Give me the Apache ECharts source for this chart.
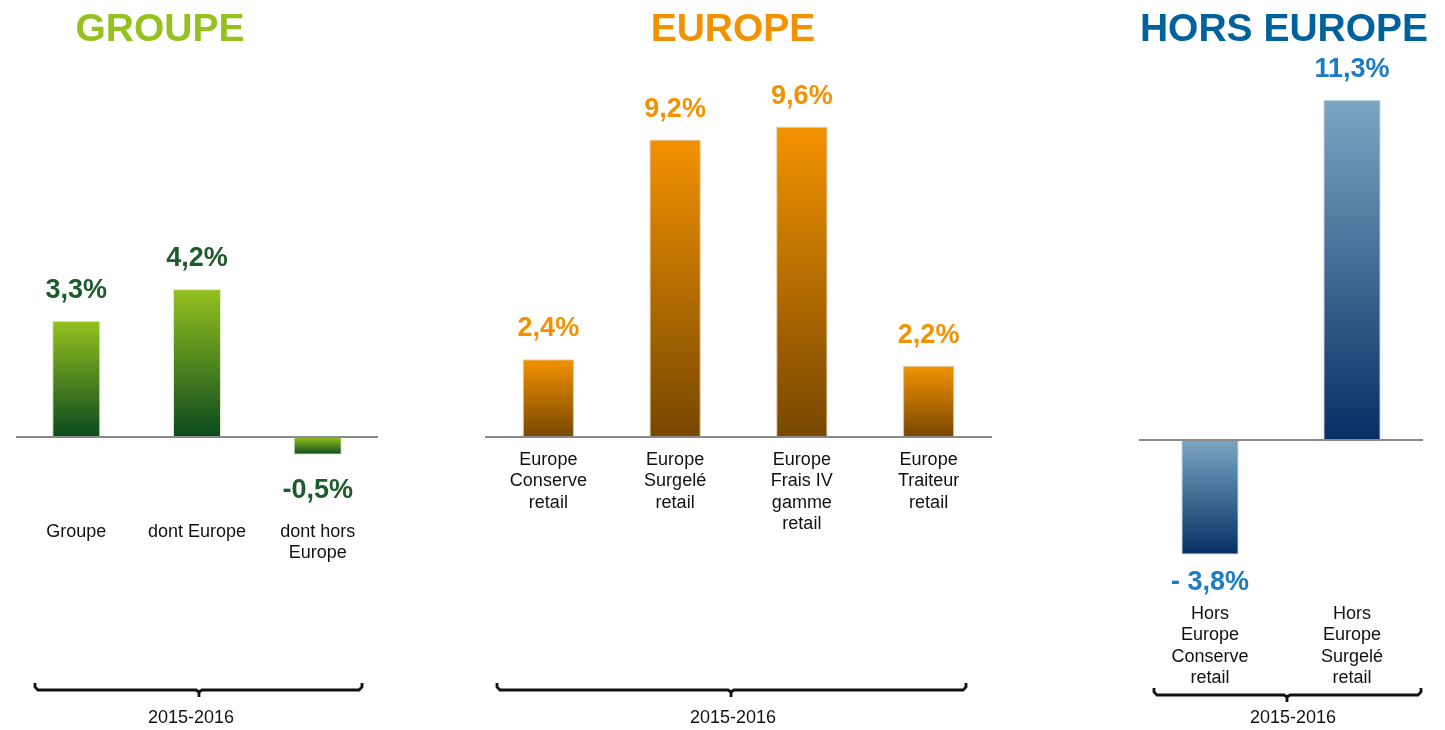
<!DOCTYPE html>
<html>
<head>
<meta charset="utf-8">
<script src="https://cdn.jsdelivr.net/npm/echarts@6/dist/echarts.min.js"></script>
<style>
html,body{margin:0;padding:0;background:#fff;}
#chart{width:1445px;height:730px;}
</style>
</head>
<body>
<div id="chart"></div>
<script>
// ---- Data ----
var titles = ['GROUPE', 'EUROPE', 'HORS EUROPE'];
var periodLabel = '2015-2016';

var groupeCategories = ['Groupe', 'dont Europe', 'dont hors\nEurope'];
var groupeValues = [3.3, 4.2, -0.5];

var europeCategories = ['Europe\nConserve\nretail', 'Europe\nSurgelé\nretail', 'Europe\nFrais IV\ngamme\nretail', 'Europe\nTraiteur\nretail'];
var europeValues = [2.4, 9.2, 9.6, 2.2];

var horsCategories = ['Hors\nEurope\nConserve\nretail', 'Hors\nEurope\nSurgelé\nretail'];
var horsValues = [-3.8, 11.3];

// ---- Layout / style (not data) ----
var FONT = 'Liberation Sans, Arial, sans-serif';
var panels = [
  { cats: groupeCategories, vals: groupeValues, left: 16, width: 362, top: 60, zeroY: 437, bottomY: 509, ppu: 35.2,
    barWidth: 48, top0: '#95c11f', bot0: '#0b4a1e', labelColor: '#1d5b2a', titleColor: '#95c11f',
    titleX: 160, negPrefix: '-', posDist: 17, negDist: 22, border: 'rgba(230,240,210,0.9)',
    bracket: [35, 362, 199, 690], periodX: 191 },
  { cats: europeCategories, vals: europeValues, left: 485, width: 507, top: 60, zeroY: 437, bottomY: 437, ppu: 32.3,
    barWidth: 51, top0: '#f39200', bot0: '#774700', labelColor: '#f39200', titleColor: '#f39200',
    titleX: 733, negPrefix: '-', posDist: 17, negDist: 22, border: 'rgba(225,195,150,0.9)',
    bracket: [497, 966, 731, 690], periodX: 733 },
  { cats: horsCategories, vals: horsValues, left: 1139, width: 284, top: 60, zeroY: 440, bottomY: 591, ppu: 30.1,
    barWidth: 57, top0: '#7ba7c4', bot0: '#052f63', labelColor: '#1b7bc3', titleColor: '#00629c',
    titleX: 1284, negPrefix: '- ', posDist: 17, negDist: 15, border: 'rgba(200,215,230,0.9)',
    bracket: [1154, 1421, 1287, 695], periodX: 1293 }
];

function fmt(v, negPrefix) {
  var s = Math.abs(v).toFixed(1).replace('.', ',') + '%';
  return v < 0 ? negPrefix + s : s;
}

var grids = [], xAxes = [], yAxes = [], series = [], titleArr = [], graphics = [];

panels.forEach(function (p, i) {
  grids.push({ left: p.left, width: p.width, top: p.top, height: p.bottomY - p.top });
  xAxes.push({
    type: 'category', gridIndex: i, data: p.cats, position: 'bottom',
    axisLine: { show: false, onZero: false }, axisTick: { show: false },
    axisLabel: { interval: 0, margin: 12, color: '#111', fontFamily: FONT, fontSize: 18, lineHeight: 21.5 }
  });
  yAxes.push({
    type: 'value', gridIndex: i, show: false,
    min: -(p.bottomY - p.zeroY) / p.ppu, max: (p.zeroY - p.top) / p.ppu,
    splitLine: { show: false }
  });
  var grad = new echarts.graphic.LinearGradient(0, 0, 0, 1, [
    { offset: 0, color: p.top0 }, { offset: 1, color: p.bot0 }
  ]);
  series.push({
    type: 'bar', xAxisIndex: i, yAxisIndex: i, barWidth: p.barWidth,
    itemStyle: { color: grad, borderColor: p.border, borderWidth: 1 },
    data: p.vals.map(function (v) {
      return {
        value: v,
        label: {
          show: true, position: v < 0 ? 'bottom' : 'top', distance: v < 0 ? p.negDist : p.posDist,
          formatter: fmt(v, p.negPrefix), color: p.labelColor,
          fontFamily: FONT, fontWeight: 'bold', fontSize: 27
        }
      };
    }),
    markLine: {
      silent: true, symbol: 'none', label: { show: false },
      lineStyle: { color: '#8a8a8a', width: 2, type: 'solid' },
      data: [{ yAxis: 0 }]
    }
  });
  titleArr.push({
    text: titles[i], left: p.titleX, top: 11, textAlign: 'center', padding: 0,
    textStyle: { color: p.titleColor, fontFamily: FONT, fontWeight: 'bold', fontSize: 39 }
  });
  var b = p.bracket, x1 = b[0], x2 = b[1], cx = b[2], y = b[3];
  graphics.push({
    type: 'polyline', silent: true,
    shape: { points: [[x1, y - 7], [x1, y - 3], [x1 + 3, y], [cx - 3, y], [cx, y + 2], [cx, y + 7], [cx, y + 2], [cx + 3, y], [x2 - 3, y], [x2, y - 3], [x2, y - 7]] },
    style: { stroke: '#111', lineWidth: 2.8, fill: null }
  });
  graphics.push({
    type: 'text', silent: true, x: p.periodX, y: 718,
    style: { text: periodLabel, fill: '#111', font: '18px ' + FONT, textAlign: 'center', textVerticalAlign: 'middle' }
  });
});

var chart = echarts.init(document.getElementById('chart'));
chart.setOption({
  animation: false,
  backgroundColor: '#fff',
  title: titleArr,
  grid: grids,
  xAxis: xAxes,
  yAxis: yAxes,
  series: series,
  graphic: graphics
});
</script>
</body>
</html>
